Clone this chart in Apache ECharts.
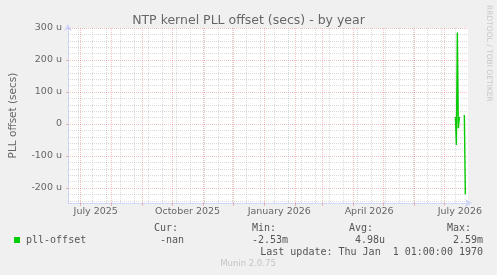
<!DOCTYPE html>
<html>
<head>
<meta charset="utf-8">
<script src="https://cdn.jsdelivr.net/npm/echarts@6/dist/echarts.min.js"></script>
<style>
  html, body { margin: 0; padding: 0; background: #f0f0f0; }
  #chart { width: 497px; height: 275px; }
</style>
</head>
<body>
<div id="chart"></div>
<script>
// daily samples (UTC days), offset in micro seconds
const sampleDates = ["2026-07-12", "2026-07-13", "2026-07-14", "2026-07-15", "2026-07-16", "2026-07-17", "2026-07-21", "2026-07-22"]
const offsetValues = [22, -66, 286, -13, 22, null, 28, -220]

// axis range and grid
const rangeStart = "2025-06-18T16:00:00Z"
const rangeEnd = "2026-07-24T16:00:00Z"
const yMin = -247
const yMax = 300
const yTicks = [-200, -100, 0, 100, 200, 300]
const yMinorTicks = [-240, -220, -180, -160, -140, -120, -80, -60, -40, -20, 20, 40, 60, 80, 120, 140, 160, 180, 220, 240, 260, 280]
const monthStarts = ["2025-07-01", "2025-08-01", "2025-09-01", "2025-10-01", "2025-11-01", "2025-12-01", "2026-01-01", "2026-02-01", "2026-03-01", "2026-04-01", "2026-05-01", "2026-06-01", "2026-07-01"]
const minorDays = ["2025-06-29", "2025-07-13", "2025-07-27", "2025-08-10", "2025-08-24", "2025-09-07", "2025-09-21", "2025-10-05", "2025-10-19", "2025-11-02", "2025-11-16", "2025-11-30", "2025-12-14", "2025-12-28", "2026-01-11", "2026-01-25", "2026-02-08", "2026-02-22", "2026-03-08", "2026-03-22", "2026-04-05", "2026-04-19", "2026-05-03", "2026-05-17", "2026-05-31", "2026-06-14", "2026-06-28", "2026-07-12"]
const xLabelDates = ["2025-07-16", "2025-10-16", "2026-01-16", "2026-04-16", "2026-07-16"]
const xLabelTexts = ["July 2025", "October 2025", "January 2026", "April 2026", "July 2026"]

// legend / stats
const seriesName = "pll-offset"
const statHeads = ["Cur:", "Min:", "Avg:", "Max:"]
const statValues = ["-nan", "-2.53m", "4.98u", "2.59m"]
const lastUpdate = "Last update: Thu Jan  1 01:00:00 1970"

const FONT = "DejaVu Sans"
const MONO = "DejaVu Sans Mono"
const GRID_COLOR = "rgba(143,143,143,0.32)"
const MGRID_COLOR = "rgba(222,79,79,0.36)"
const AXIS_COLOR = "#CFD6F8"

const t = (s) => Date.parse(s)
const labelTimes = xLabelDates.map((d) => t(d + "T12:00:00Z"))

const chart = echarts.init(document.getElementById("chart"))

const gridLines = [
  ...minorDays.map((d) => ({ xAxis: t(d), lineStyle: { color: GRID_COLOR, type: [1, 1], width: 1 } })),
  ...yMinorTicks.map((v) => ({ yAxis: v, lineStyle: { color: GRID_COLOR, type: [1, 1], width: 1 } })),
  ...monthStarts.map((d) => ({ xAxis: t(d), lineStyle: { color: MGRID_COLOR, type: [1, 1], width: 1 } })),
  ...yTicks.map((v) => ({ yAxis: v, lineStyle: { color: MGRID_COLOR, type: [1, 1], width: 1 } }))
]

const statX = [154, 252, 349, 447]
const valueRight = [184, 288, 385, 483]

const option = {
  animation: false,
  backgroundColor: "#f0f0f0",
  title: {
    text: "NTP kernel PLL offset (secs) - by year",
    left: "center",
    top: 9,
    textStyle: { fontFamily: FONT, fontSize: 12.5, fontWeight: "normal", color: "#666" }
  },
  grid: {
    left: 66, right: 29, top: 28, bottom: 72,
    show: true, backgroundColor: "#fff", borderWidth: 0
  },
  legend: {
    left: 14, top: 235, padding: 0,
    icon: "rect", itemWidth: 6, itemHeight: 6,
    textStyle: { fontFamily: MONO, fontSize: 10, color: "#555", padding: [0, 0, 0, 1] },
    data: [seriesName]
  },
  xAxis: {
    type: "value",
    min: t(rangeStart),
    max: t(rangeEnd),
    splitLine: { show: false },
    axisLine: {
      show: true, onZero: false,
      lineStyle: { color: AXIS_COLOR, width: 1 },
      symbol: ["none", "arrow"], symbolSize: [6, 7], symbolOffset: [0, 4]
    },
    axisTick: {
      show: true, customValues: monthStarts.map(t), length: 3,
      lineStyle: { color: MGRID_COLOR }
    },
    axisLabel: {
      customValues: labelTimes,
      formatter: (v) => {
        const i = labelTimes.indexOf(v)
        return i >= 0 ? xLabelTexts[i] : ""
      },
      color: "#666", fontFamily: FONT, fontSize: 9.5, margin: 4
    }
  },
  yAxis: {
    type: "value",
    min: yMin,
    max: yMax,
    name: "PLL offset (secs)",
    nameLocation: "middle",
    nameGap: 49,
    nameTextStyle: { fontFamily: FONT, fontSize: 10.5, color: "#666" },
    splitLine: { show: false },
    axisLine: {
      show: true, onZero: false,
      lineStyle: { color: AXIS_COLOR, width: 1 },
      symbol: ["none", "arrow"], symbolSize: [6, 7], symbolOffset: [0, 4]
    },
    axisTick: {
      show: true, customValues: yTicks, length: 2,
      lineStyle: { color: MGRID_COLOR }
    },
    axisLabel: {
      customValues: yTicks,
      formatter: (v) => (v === 0 ? "0" : v + " u"),
      color: "#666", fontFamily: FONT, fontSize: 9.5, margin: 6
    }
  },
  series: [
    {
      name: "grid",
      type: "line",
      data: [],
      z: 1,
      silent: true,
      markLine: {
        silent: true,
        symbol: ["none", "none"],
        label: { show: false },
        emphasis: { disabled: true },
        animation: false,
        data: gridLines
      }
    },
    {
      name: seriesName,
      type: "line",
      z: 3,
      symbol: "none",
      connectNulls: false,
      color: "#00CC00",
      lineStyle: { color: "#00CC00", width: 1.4 },
      data: sampleDates.map((d, i) => [t(d), offsetValues[i]])
    }
  ],
  graphic: [
    ...statHeads.map((s, i) => ({
      type: "text", left: statX[i], top: 223.5,
      style: { text: s, font: "10px " + MONO, fill: "#555" }
    })),
    ...statValues.map((s, i) => ({
      type: "text", x: valueRight[i], y: 235.5,
      style: { text: s, font: "10px " + MONO, fill: "#555", align: "right" }
    })),
    {
      type: "text", x: 483, y: 247.5,
      style: { text: lastUpdate, font: "10px " + MONO, fill: "#555", align: "right" }
    },
    {
      type: "text", x: 248, y: 264,
      style: { text: "Munin 2.0.75", font: "8.5px " + FONT, fill: "#c4c4c4", align: "center", verticalAlign: "middle" }
    },
    {
      type: "text", x: 493, y: 5, rotation: -Math.PI / 2,
      style: { text: "RRDTOOL / TOBI OETIKER", font: "7.5px " + FONT, fill: "#c8c8c8" }
    }
  ]
}

chart.setOption(option)
</script>
</body>
</html>
